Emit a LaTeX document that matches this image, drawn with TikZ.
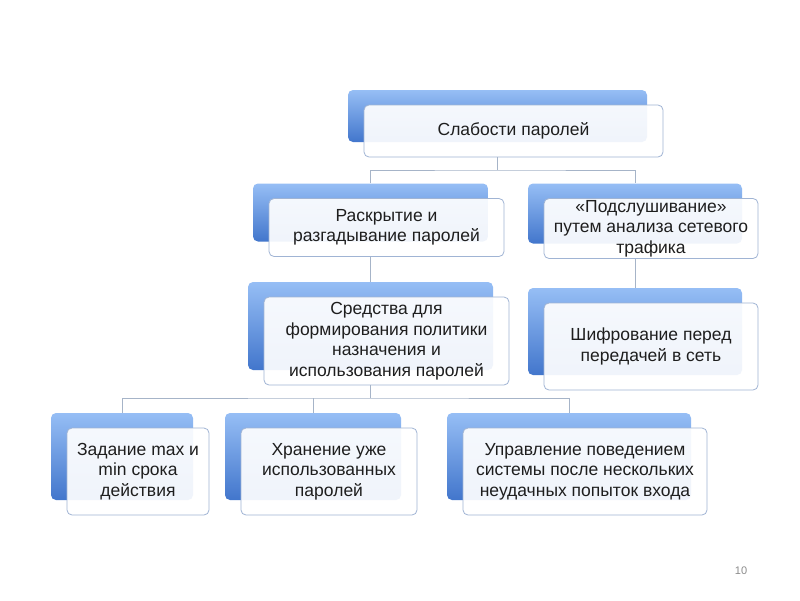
\documentclass[tikz,border=0pt]{standalone}
\usepackage{fontspec}
\setmainfont{Liberation Sans}
\usetikzlibrary{positioning}

\definecolor{bluetop}{RGB}{150,190,245}
\definecolor{bluebot}{RGB}{66,118,204}
\definecolor{frameblue}{RGB}{160,180,212}
\definecolor{linegray}{RGB}{166,180,200}
\definecolor{numgray}{RGB}{140,140,140}
\definecolor{textdark}{RGB}{30,30,30}

\tikzset{
  backbox/.style={rounded corners=5pt, top color=bluetop, bottom color=bluebot, inner sep=0pt},
  frontbox/.style={draw=frameblue, line width=0.8pt, rounded corners=5pt, fill=white, fill opacity=0.92, text opacity=1,
    text=textdark, align=center, inner sep=0pt, font=\fontsize{17.5}{20.5}\selectfont},
  conn/.style={draw=linegray, line width=0.8pt}
}

\begin{document}
\begin{tikzpicture}[x=1pt, y=-1pt]
  \useasboundingbox[fill=white] (0,0) rectangle (800,600);

  % blue back boxes
  \node (b1) [backbox, minimum width=299pt, minimum height=52pt] at (497.5,116) {};
  \node (b2) [backbox, minimum width=235pt, minimum height=58pt] at (370.5,212.5) {};
  \node (b3) [backbox, minimum width=214pt, minimum height=60pt] at (635,213.5) {};
  \node (b4) [backbox, minimum width=245pt, minimum height=88pt] at (370.5,326) {};
  \node (b5) [backbox, minimum width=214pt, minimum height=87pt] at (635,331.5) {};
  \node (b6) [backbox, minimum width=142pt, minimum height=87pt] at (122,456.5) {};
  \node (b7) [backbox, minimum width=176pt, minimum height=87pt] at (313,456.5) {};
  \node (b8) [backbox, minimum width=244pt, minimum height=87pt] at (569,456.5) {};

  % white front boxes with text
  \node (f1) [frontbox, minimum width=299pt, minimum height=52pt, xshift=16pt, yshift=-15pt] at (b1) {Слабости паролей};
  \node (f2) [frontbox, minimum width=235pt, minimum height=58pt, xshift=16pt, yshift=-15pt] at (b2) {Раскрытие и\\разгадывание паролей};
  \node (f3) [frontbox, minimum width=214pt, minimum height=60pt, xshift=16pt, yshift=-15pt] at (b3) {«Подслушивание»\\путем анализа сетевого\\трафика};
  \node (f4) [frontbox, minimum width=245pt, minimum height=88pt, xshift=16pt, yshift=-15pt] at (b4) {Средства для\\формирования политики\\назначения и\\использования паролей};
  \node (f5) [frontbox, minimum width=214pt, minimum height=87pt, xshift=16pt, yshift=-15pt] at (b5) {Шифрование перед\\передачей в сеть};
  \node (f6) [frontbox, minimum width=142pt, minimum height=87pt, xshift=16pt, yshift=-15pt] at (b6) {Задание max и\\min срока\\действия};
  \node (f7) [frontbox, minimum width=176pt, minimum height=87pt, xshift=16pt, yshift=-15pt] at (b7) {Хранение уже\\использованных\\паролей};
  \node (f8) [frontbox, minimum width=244pt, minimum height=87pt, xshift=16pt, yshift=-15pt] at (b8) {Управление поведением\\системы после нескольких\\неудачных попыток входа};

  % connectors
  \coordinate (j1) at (497.5,170);
  \coordinate (j2) at (370.5,398);
  \draw[conn] (b1 |- f1.south) -- (j1);
  \draw[conn] (b2.north) |- (j1) -| (b3.north);
  \draw[conn] (b2 |- f2.south) -- (b4.north);
  \draw[conn] (b3 |- f3.south) -- (b5.north);
  \draw[conn] (b4 |- f4.south) -- (j2);
  \draw[conn] (b6.north) |- (j2) -| (b8.north);
  \draw[conn] (b7.north) -- (b7 |- j2);

  \node (num) [text=numgray, font=\fontsize{11}{13}\selectfont] at (741,571) {10};
\end{tikzpicture}
\end{document}
